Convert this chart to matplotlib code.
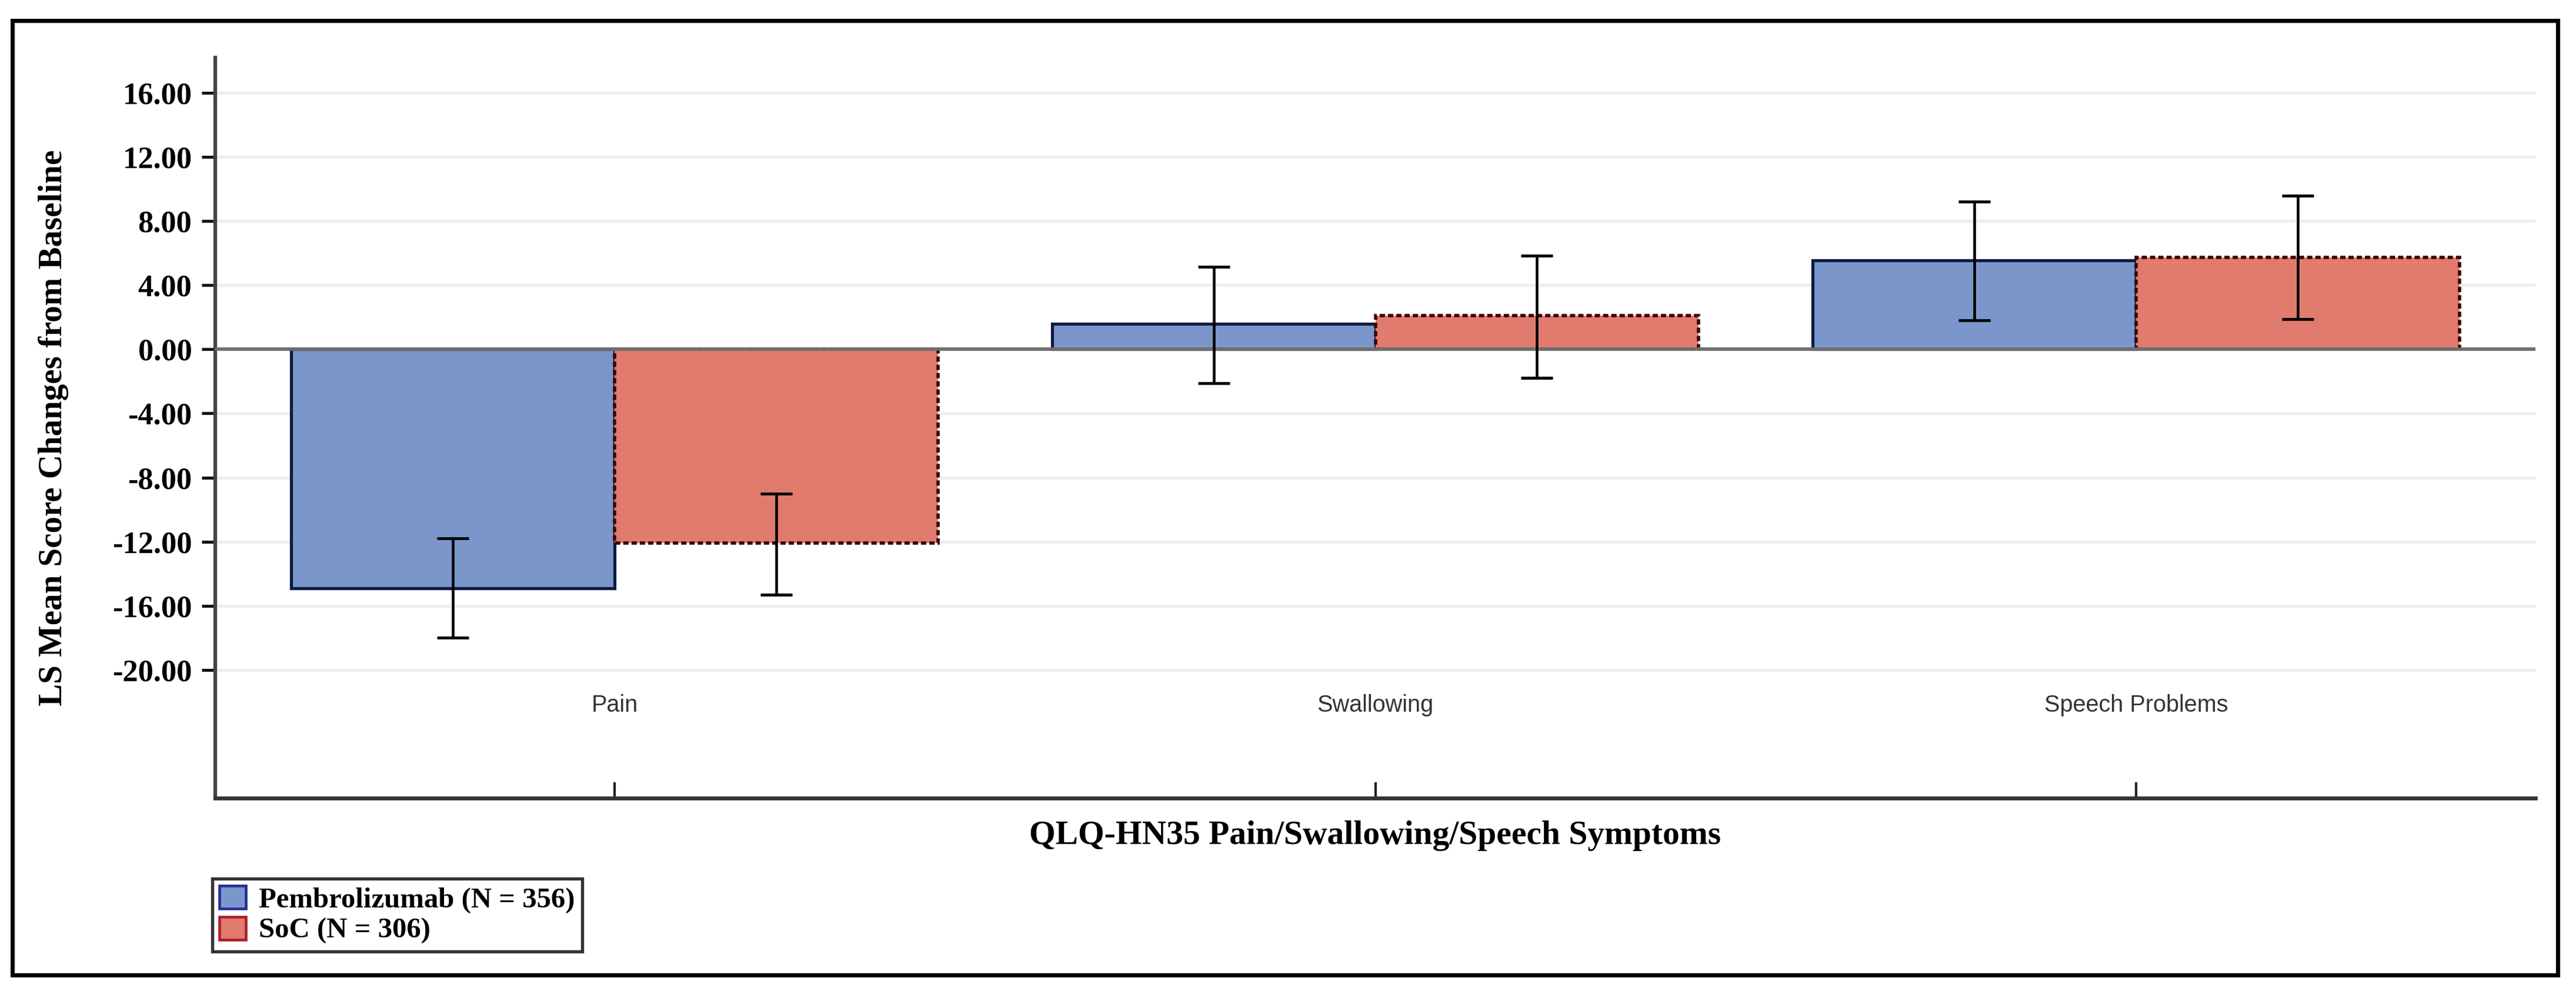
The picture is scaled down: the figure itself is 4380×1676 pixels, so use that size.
import numpy as np
import matplotlib
matplotlib.use("Agg")
import matplotlib.pyplot as plt
from matplotlib.patches import Rectangle, Patch
from matplotlib.transforms import blended_transform_factory

# valores
categorias = ["Pain", "Swallowing", "Speech Problems"]
pembro_media = [-14.9, 1.6, 5.55]
pembro_inf = [-18.0, -2.1, 1.8]
pembro_sup = [-11.8, 5.15, 9.2]
soc_media = [-12.1, 2.1, 5.75]
soc_inf = [-15.3, -1.8, 1.9]
soc_sup = [-9.0, 5.85, 9.6]
yticks = [-20, -16, -12, -8, -4, 0, 4, 8, 12, 16]
etiquetas = ["Pembrolizumab (N = 356)", "SoC (N = 306)"]

AZUL = "#7b96cb"
ROJO = "#e07b6d"
BORDE_AZUL = "#0f1a45"
BORDE_ROJO = "#3a0606"

serif = "Liberation Serif"
sans = "Liberation Sans"

fig = plt.figure(figsize=(14.6, 1676 / 300), dpi=300)
W, H = 4380, 1676
ax = fig.add_axes([366 / W, 1 - 1358 / H, (4311 - 366) / W, (1358 - 98) / H])

x = np.arange(len(categorias))
ancho = 0.425

ax.bar(x - ancho / 2, pembro_media, ancho, color=AZUL, edgecolor=BORDE_AZUL,
       linewidth=1.25, zorder=2)
ax.bar(x + ancho / 2, soc_media, ancho, color=ROJO, edgecolor=BORDE_ROJO,
       linewidth=1.35, linestyle=(0, (1.6, 0.9)), zorder=2)

err_p = [np.array(pembro_media) - np.array(pembro_inf), np.array(pembro_sup) - np.array(pembro_media)]
err_s = [np.array(soc_media) - np.array(soc_inf), np.array(soc_sup) - np.array(soc_media)]
ax.errorbar(x - ancho / 2, pembro_media, yerr=err_p, fmt="none", ecolor="black",
            elinewidth=1.1, capsize=6.5, capthick=1.2, zorder=4)
ax.errorbar(x + ancho / 2, soc_media, yerr=err_s, fmt="none", ecolor="black",
            elinewidth=1.1, capsize=6.5, capthick=1.2, zorder=4)

ax.axhline(0, color="#6e6e6e", linewidth=1.4, zorder=3)

ax.set_xlim(-0.525, 2.525)
ax.set_ylim(-28.0, 18.2)
ax.set_yticks(yticks)
ax.set_yticklabels(["%.2f" % v for v in yticks], fontfamily=serif,
                   fontweight="bold", fontsize=12.6)
ax.yaxis.grid(True, color="#eeeeee", linewidth=1.3, zorder=0)
ax.set_axisbelow(True)

ax.set_xticks(x)
ax.set_xticklabels([])
ax.tick_params(axis="x", direction="in", length=6.5, width=1.0, color="#222222")
ax.tick_params(axis="y", direction="out", length=5.5, width=1.2, pad=4, color="#111111")

trans = blended_transform_factory(ax.transData, ax.transData)
for i, c in enumerate(categorias):
    ax.text(x[i], -22.2, c, ha="center", va="center", fontfamily=sans,
            fontsize=9.5, color="#333333", transform=trans)

for s in ["top", "right"]:
    ax.spines[s].set_visible(False)
ax.spines["left"].set_color("#444444")
ax.spines["left"].set_linewidth(1.5)
ax.spines["bottom"].set_color("#333333")
ax.spines["bottom"].set_linewidth(1.6)

ax.set_ylabel("LS Mean Score Changes from Baseline", fontfamily=serif,
              fontweight="bold", fontsize=13.7)
ax.yaxis.set_label_coords(-0.0630, 0.5)
ax.set_xlabel("QLQ-HN35 Pain/Swallowing/Speech Symptoms", fontfamily=serif,
              fontweight="bold", fontsize=13.8)
ax.xaxis.set_label_coords(0.5, -0.030)

manijas = [Patch(facecolor=AZUL, edgecolor="#262c96", linewidth=1.1),
           Patch(facecolor=ROJO, edgecolor="#b01c2a", linewidth=1.1)]
leg = fig.legend(manijas, etiquetas, loc="upper left",
                 bbox_to_anchor=(361 / W, 1 - 1495 / H),
                 prop={"family": serif, "weight": "bold", "size": 11.7},
                 frameon=True, fancybox=False, edgecolor="black",
                 handlelength=0.92, handleheight=0.85, handletextpad=0.45,
                 labelspacing=0.12, borderpad=0.25, borderaxespad=0)
leg.get_frame().set_linewidth(1.3)

# marco exterior
fig.patches.append(Rectangle((21 / W, 1 - 1659 / H), (4349 - 21) / W, (1659 - 35) / H,
                             transform=fig.transFigure, fill=False,
                             edgecolor="black", linewidth=1.7))

fig.savefig("out.png", dpi=300, facecolor="white")
